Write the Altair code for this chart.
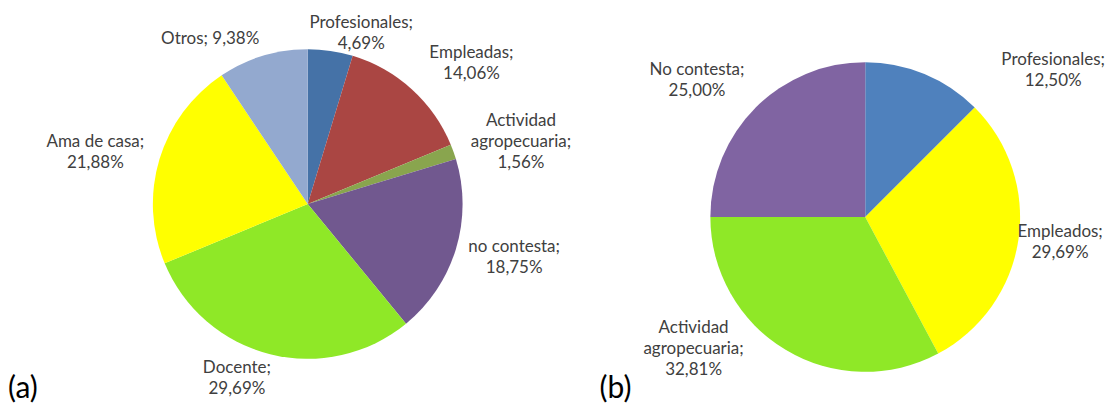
import math
import altair as alt
import pandas as pd

# ---- data (a) ----
cats_a = ["Profesionales", "Empleadas", "Actividad agropecuaria", "no contesta",
          "Docente", "Ama de casa", "Otros"]
vals_a = [4.69, 14.06, 1.56, 18.75, 29.69, 21.88, 9.38]
names_a = ["Profesionales;", "Empleadas;", "Actividad\nagropecuaria;", "no contesta;",
           "Docente;", "Ama de casa;", "Otros;"]
colors_a = ["#4572A7", "#AA4643", "#89A54E", "#71588F", "#8FE827", "#FFFF00", "#93A9CF"]

# ---- data (b) ----
cats_b = ["Profesionales", "Empleados", "Actividad agropecuaria", "No contesta"]
vals_b = [12.50, 29.69, 32.81, 25.00]
names_b = ["Profesionales;", "Empleados;", "Actividad\nagropecuaria;", "No contesta;"]
colors_b = ["#4F81BD", "#FFFF00", "#8FE827", "#8064A2"]

# label nudges (style) mimicking Excel's "best fit" label placement
nudge_a = {"Profesionales": (-2, 4), "Empleadas": (9, -9), "Actividad agropecuaria": (0, -2),
           "no contesta": (-6, 2), "Docente": (0, 3), "Otros": (-3, 4)}
nudge_b = {"Profesionales": (70, 17), "Empleados": (-16, 0),
           "Actividad agropecuaria": (-34, -20), "No contesta": (0, -11)}

FONT = "Lato"
TXT = "#404040"
FS = 17
LH = 21
CHW = 7.2
W, H = 1098, 388


def fmt(v):
    return f"{v:.2f}%".replace(".", ",")


def make_labels(names, vals):
    out = []
    for n, v in zip(names, vals):
        if n == "Otros;":
            out.append(f"{n} {fmt(v)}")
        else:
            out.append(f"{n}\n{fmt(v)}")
    return out


def pie(cats, vals, names, colors, R, RL, cx, cy, nudge):
    labels = make_labels(names, vals)
    df = pd.DataFrame({"cat": cats, "val": vals, "label": labels,
                       "order": list(range(len(cats)))})
    center = {"x": alt.value(cx), "y": alt.value(cy)}
    base = alt.Chart(df)
    arc = base.mark_arc(radius=R, stroke=None).encode(
        theta=alt.Theta("val:Q", stack=True),
        color=alt.Color("cat:N", scale=alt.Scale(domain=cats, range=colors), legend=None),
        order=alt.Order("order:Q"),
        **center,
    )
    tb = base.transform_window(
        cum="sum(val)", sort=[alt.SortField("order")], frame=[None, 0]
    ).transform_joinaggregate(total="sum(val)").transform_calculate(
        ang="2*PI*(datum.cum - datum.val/2)/datum.total",
    )
    total = sum(vals)
    layers = [arc]
    cum = 0.0
    for c, v, lab in zip(cats, vals, labels):
        mid = (cum + v / 2) / total * 2 * math.pi
        cum += v
        lines = lab.split("\n")
        half = max(len(s) for s in lines) * CHW / 2
        k = max(-1.0, min(1.0, 4 * math.sin(mid)))
        ndx, ndy = nudge.get(c, (0, 0))
        layers.append(
            tb.transform_filter(alt.datum.cat == c).mark_text(
                align="center", baseline="middle", lineBreak="\n", font=FONT,
                fontSize=FS, color=TXT, lineHeight=LH,
                dx=half * k + ndx, dy=-(len(lines) - 1) * LH / 2 + ndy,
            ).encode(
                theta=alt.Theta("ang:Q", scale=None, stack=None),
                radius=alt.value(RL),
                text="label:N",
                **center,
            )
        )
    return layers


tags = ["(a)", "(b)"]
tag_df = pd.DataFrame({"t": tags})


def tag_layer(t, x):
    return alt.Chart(tag_df).transform_filter(alt.datum.t == t).mark_text(
        align="left", baseline="alphabetic", font=FONT, fontSize=30, color="#000000"
    ).encode(text="t:N", x=alt.value(x), y=alt.value(H + 2))


layers = (
    pie(cats_a, vals_a, names_a, colors_a, 155, 177, 300, 196, nudge_a)
    + pie(cats_b, vals_b, names_b, colors_b, 155, 177, 858, 209, nudge_b)
    + [tag_layer("(a)", 0), tag_layer("(b)", 592)]
)

chart = alt.layer(*layers).resolve_scale(
    color="independent", theta="independent"
).properties(
    width=W, height=H, padding=0
).configure_view(stroke=None)
chart.save("out.html", embed_options={"renderer": "svg", "actions": False})
